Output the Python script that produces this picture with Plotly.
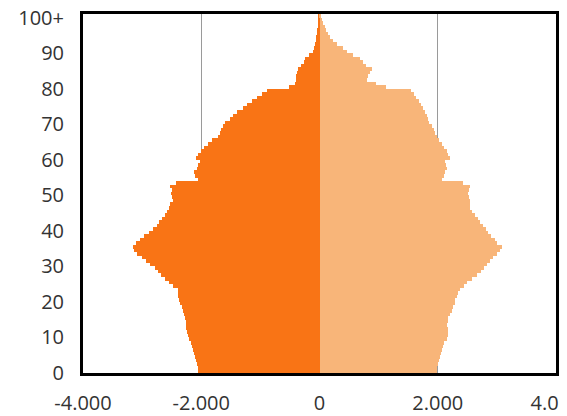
import plotly.graph_objects as go

ages = list(range(0, 101))

men = [2050, 2060, 2075, 2090, 2105, 2120, 2135, 2150, 2165, 2200,
       2225, 2245, 2250, 2255, 2265, 2275, 2290, 2305, 2330, 2355,
       2370, 2385, 2390, 2385, 2480, 2540, 2620, 2680, 2740, 2790,
       2860, 2930, 3000, 3080, 3140, 3150, 3110, 3040, 2960, 2880,
       2820, 2750, 2710, 2670, 2620, 2580, 2550, 2530, 2480, 2500,
       2510, 2500, 2530, 2420, 2050, 2100, 2120, 2080, 2060, 2020,
       2090, 2060, 2010, 1950, 1880, 1810, 1720, 1680, 1660, 1630,
       1600, 1520, 1460, 1390, 1300, 1230, 1150, 1050, 980, 880,
       520, 420, 400, 390, 380, 360, 320, 270, 240, 170,
       110, 90, 70, 60, 55, 50, 40, 30, 20, 15, 10]

women = [1980, 1995, 2010, 2025, 2040, 2055, 2065, 2085, 2110, 2150,
         2165, 2180, 2170, 2160, 2170, 2180, 2210, 2235, 2260, 2290,
         2300, 2320, 2350, 2380, 2440, 2500, 2580, 2660, 2730, 2790,
         2830, 2880, 2930, 3000, 3060, 3080, 3010, 2960, 2900, 2850,
         2810, 2760, 2710, 2680, 2630, 2580, 2545, 2540, 2545, 2520,
         2515, 2530, 2545, 2430, 2070, 2100, 2120, 2150, 2140, 2120,
         2210, 2180, 2150, 2100, 2070, 2020, 1980, 1950, 1930, 1900,
         1850, 1830, 1810, 1780, 1750, 1720, 1680, 1630, 1590, 1540,
         1130, 960, 800, 820, 860, 880, 790, 740, 690, 560,
         470, 400, 290, 230, 180, 140, 110, 90, 60, 40, 25]

y_tickvals = [0, 10, 20, 30, 40, 50, 60, 70, 80, 90, 100]
y_ticktext = ["0", "10", "20", "30", "40", "50", "60", "70", "80", "90", "100+"]
x_tickvals = [-4000, -2000, 0, 2000, 4000]
x_ticktext = ["-4.000", "-2.000", "0", "2.000", "4.000"]

fig = go.Figure()
fig.add_trace(go.Bar(
    y=ages, x=[-v for v in men], orientation="h",
    width=1, offset=0,
    marker=dict(color="#F97415", line=dict(width=0)),
    name="Männer", hoverinfo="skip",
))
fig.add_trace(go.Bar(
    y=ages, x=women, orientation="h",
    width=1, offset=0,
    marker=dict(color="#F8B579", line=dict(width=0)),
    name="Frauen", hoverinfo="skip",
))

fig.update_layout(
    width=559, height=408,
    margin=dict(l=75, r=11, t=6, b=43),
    barmode="relative", bargap=0,
    showlegend=False,
    plot_bgcolor="white", paper_bgcolor="white",
    font=dict(family="Open Sans", size=20, color="#333333"),
)
fig.update_xaxes(
    range=[-4000, 4000],
    tickvals=x_tickvals, ticktext=x_ticktext,
    showgrid=True, gridcolor="#9a9a9a", gridwidth=1,
    zeroline=False,
    showline=True, linecolor="black", linewidth=3, mirror=True,
    ticks="", ticklabelstandoff=10, ticklabeloverflow="allow",
    automargin=False,
    layer="below traces",
)
fig.update_yaxes(
    range=[0, 101],
    tickvals=y_tickvals, ticktext=y_ticktext,
    showgrid=False, zeroline=False,
    showline=True, linecolor="black", linewidth=3, mirror=True,
    ticks="", ticklabelstandoff=12, ticklabeloverflow="allow",
    automargin=False,
    layer="below traces",
)

fig.write_html("out.html")
